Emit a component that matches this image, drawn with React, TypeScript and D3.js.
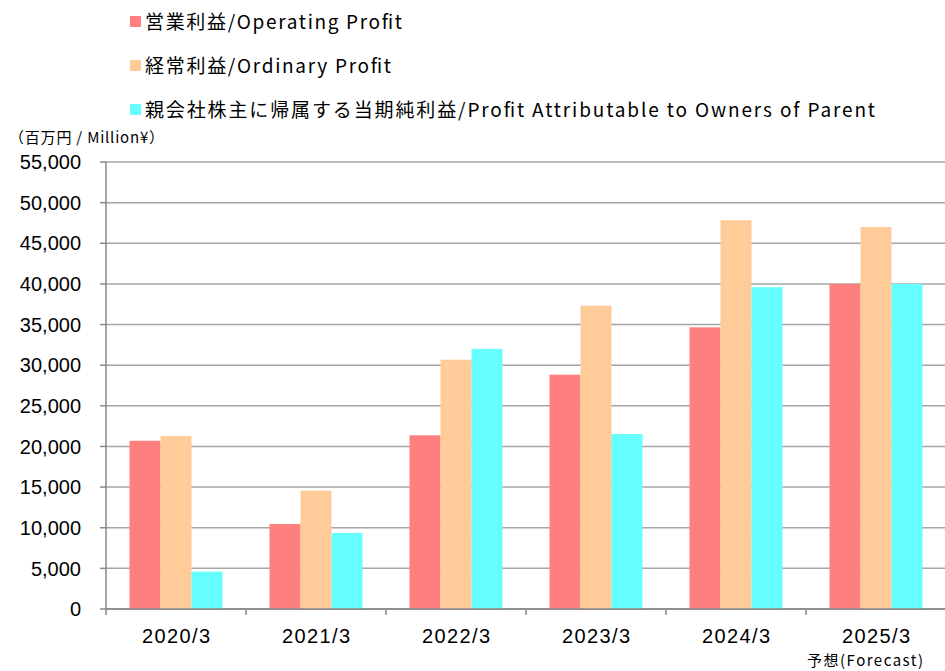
import React from "react";
import * as d3 from "d3";

const categories = ["2020/3", "2021/3", "2022/3", "2023/3", "2024/3", "2025/3"];
const seriesNames = [
  "営業利益/Operating Profit",
  "経常利益/Ordinary Profit",
  "親会社株主に帰属する当期純利益/Profit Attributable to Owners of Parent",
];
const operatingProfit = [20700, 10450, 21370, 28830, 34660, 40000];
const ordinaryProfit = [21300, 14560, 30680, 37320, 47830, 47000];
const netProfit = [4600, 9350, 32000, 21530, 39600, 40000];
const colors = ["#FF7F7F", "#FFCC99", "#66FFFF"];
const yTicks = [0, 5000, 10000, 15000, 20000, 25000, 30000, 35000, 40000, 45000, 50000, 55000];

const W = 945;
const H = 671;
const legendLengths = [257, 246, 730];

export default function App() {
  const series = [operatingProfit, ordinaryProfit, netProfit];
  const x0 = d3.scaleBand<string>().domain(categories).range([106, 946]).paddingInner(0).paddingOuter(0);
  const groupW = x0.bandwidth() * (93 / 140);
  const x1 = d3.scaleBand<number>().domain([0, 1, 2]).range([0, groupW]).padding(0);
  const y = d3.scaleLinear().domain([0, 55000]).range([609, 162]);
  const fmt = d3.format(",");
  const jp = "'Noto Sans CJK JP', 'Noto Sans', sans-serif";
  const lat = "'Liberation Sans', Arial, sans-serif";

  return (
    <svg width={W} height={H} style={{ position: "absolute", left: 0, top: 0, background: "#fff" }}>
      {/* legend */}
      {seriesNames.map((n, i) => (
        <g key={n} transform={`translate(130, ${22 + i * 44})`}>
          <rect x={0} y={-6} width={11} height={11} fill={colors[i]} />
          <text
            x={15}
            y={0}
            dy="0.36em"
            fontFamily={jp}
            fontSize={19}
            fill="#000"
            textLength={legendLengths[i]}
            lengthAdjust="spacing"
          >
            {n}
          </text>
        </g>
      ))}
      <text
        x={9}
        y={138}
        dy="0.36em"
        fontFamily={jp}
        fontSize={15}
        fill="#000"
        textLength={155}
        lengthAdjust="spacing"
      >
        （百万円 / Million¥）
      </text>

      {/* gridlines */}
      {yTicks.map((t) => (
        <line
          key={t}
          x1={106}
          x2={W}
          y1={y(t)}
          y2={y(t)}
          stroke={t === 0 ? "#888" : "#a6a6a6"}
          strokeWidth={1.5}
        />
      ))}
      {/* y tick marks & labels */}
      {yTicks.map((t) => (
        <g key={"t" + t}>
          <line x1={100} x2={106} y1={y(t)} y2={y(t)} stroke="#888" strokeWidth={1.5} />
          <text x={81} y={y(t)} dy="0.36em" textAnchor="end" fontFamily={lat} fontSize={20} fill="#000">
            {fmt(t)}
          </text>
        </g>
      ))}

      {/* bars */}
      {categories.map((c, ci) => {
        const gx = (x0(c) as number) + (x0.bandwidth() - groupW) / 2;
        return (
          <g key={c} transform={`translate(${gx},0)`}>
            {series.map((s, si) => (
              <rect
                key={si}
                x={x1(si) as number}
                y={y(s[ci])}
                width={x1.bandwidth()}
                height={y(0) - y(s[ci])}
                fill={colors[si]}
              />
            ))}
          </g>
        );
      })}

      {/* axes */}
      <line x1={106} x2={106} y1={y(55000)} y2={y(0) + 6} stroke="#888" strokeWidth={1.5} />
      <line x1={106} x2={W} y1={y(0)} y2={y(0)} stroke="#888" strokeWidth={1.5} />
      {categories.map((c) => (
        <line
          key={"xt" + c}
          x1={(x0(c) as number) + x0.bandwidth()}
          x2={(x0(c) as number) + x0.bandwidth()}
          y1={y(0)}
          y2={y(0) + 6}
          stroke="#888"
          strokeWidth={1.5}
        />
      ))}
      {categories.map((c) => (
        <text
          key={"xl" + c}
          x={(x0(c) as number) + x0.bandwidth() / 2}
          y={636}
          dy="0.36em"
          textAnchor="middle"
          fontFamily={lat}
          fontSize={20}
          fill="#000"
          textLength={68}
          lengthAdjust="spacing"
        >
          {c}
        </text>
      ))}
      <text
        x={807}
        y={661}
        dy="0.36em"
        fontFamily={jp}
        fontSize={15}
        fill="#000"
        textLength={116}
        lengthAdjust="spacing"
      >
        予想(Forecast)
      </text>
    </svg>
  );
}
